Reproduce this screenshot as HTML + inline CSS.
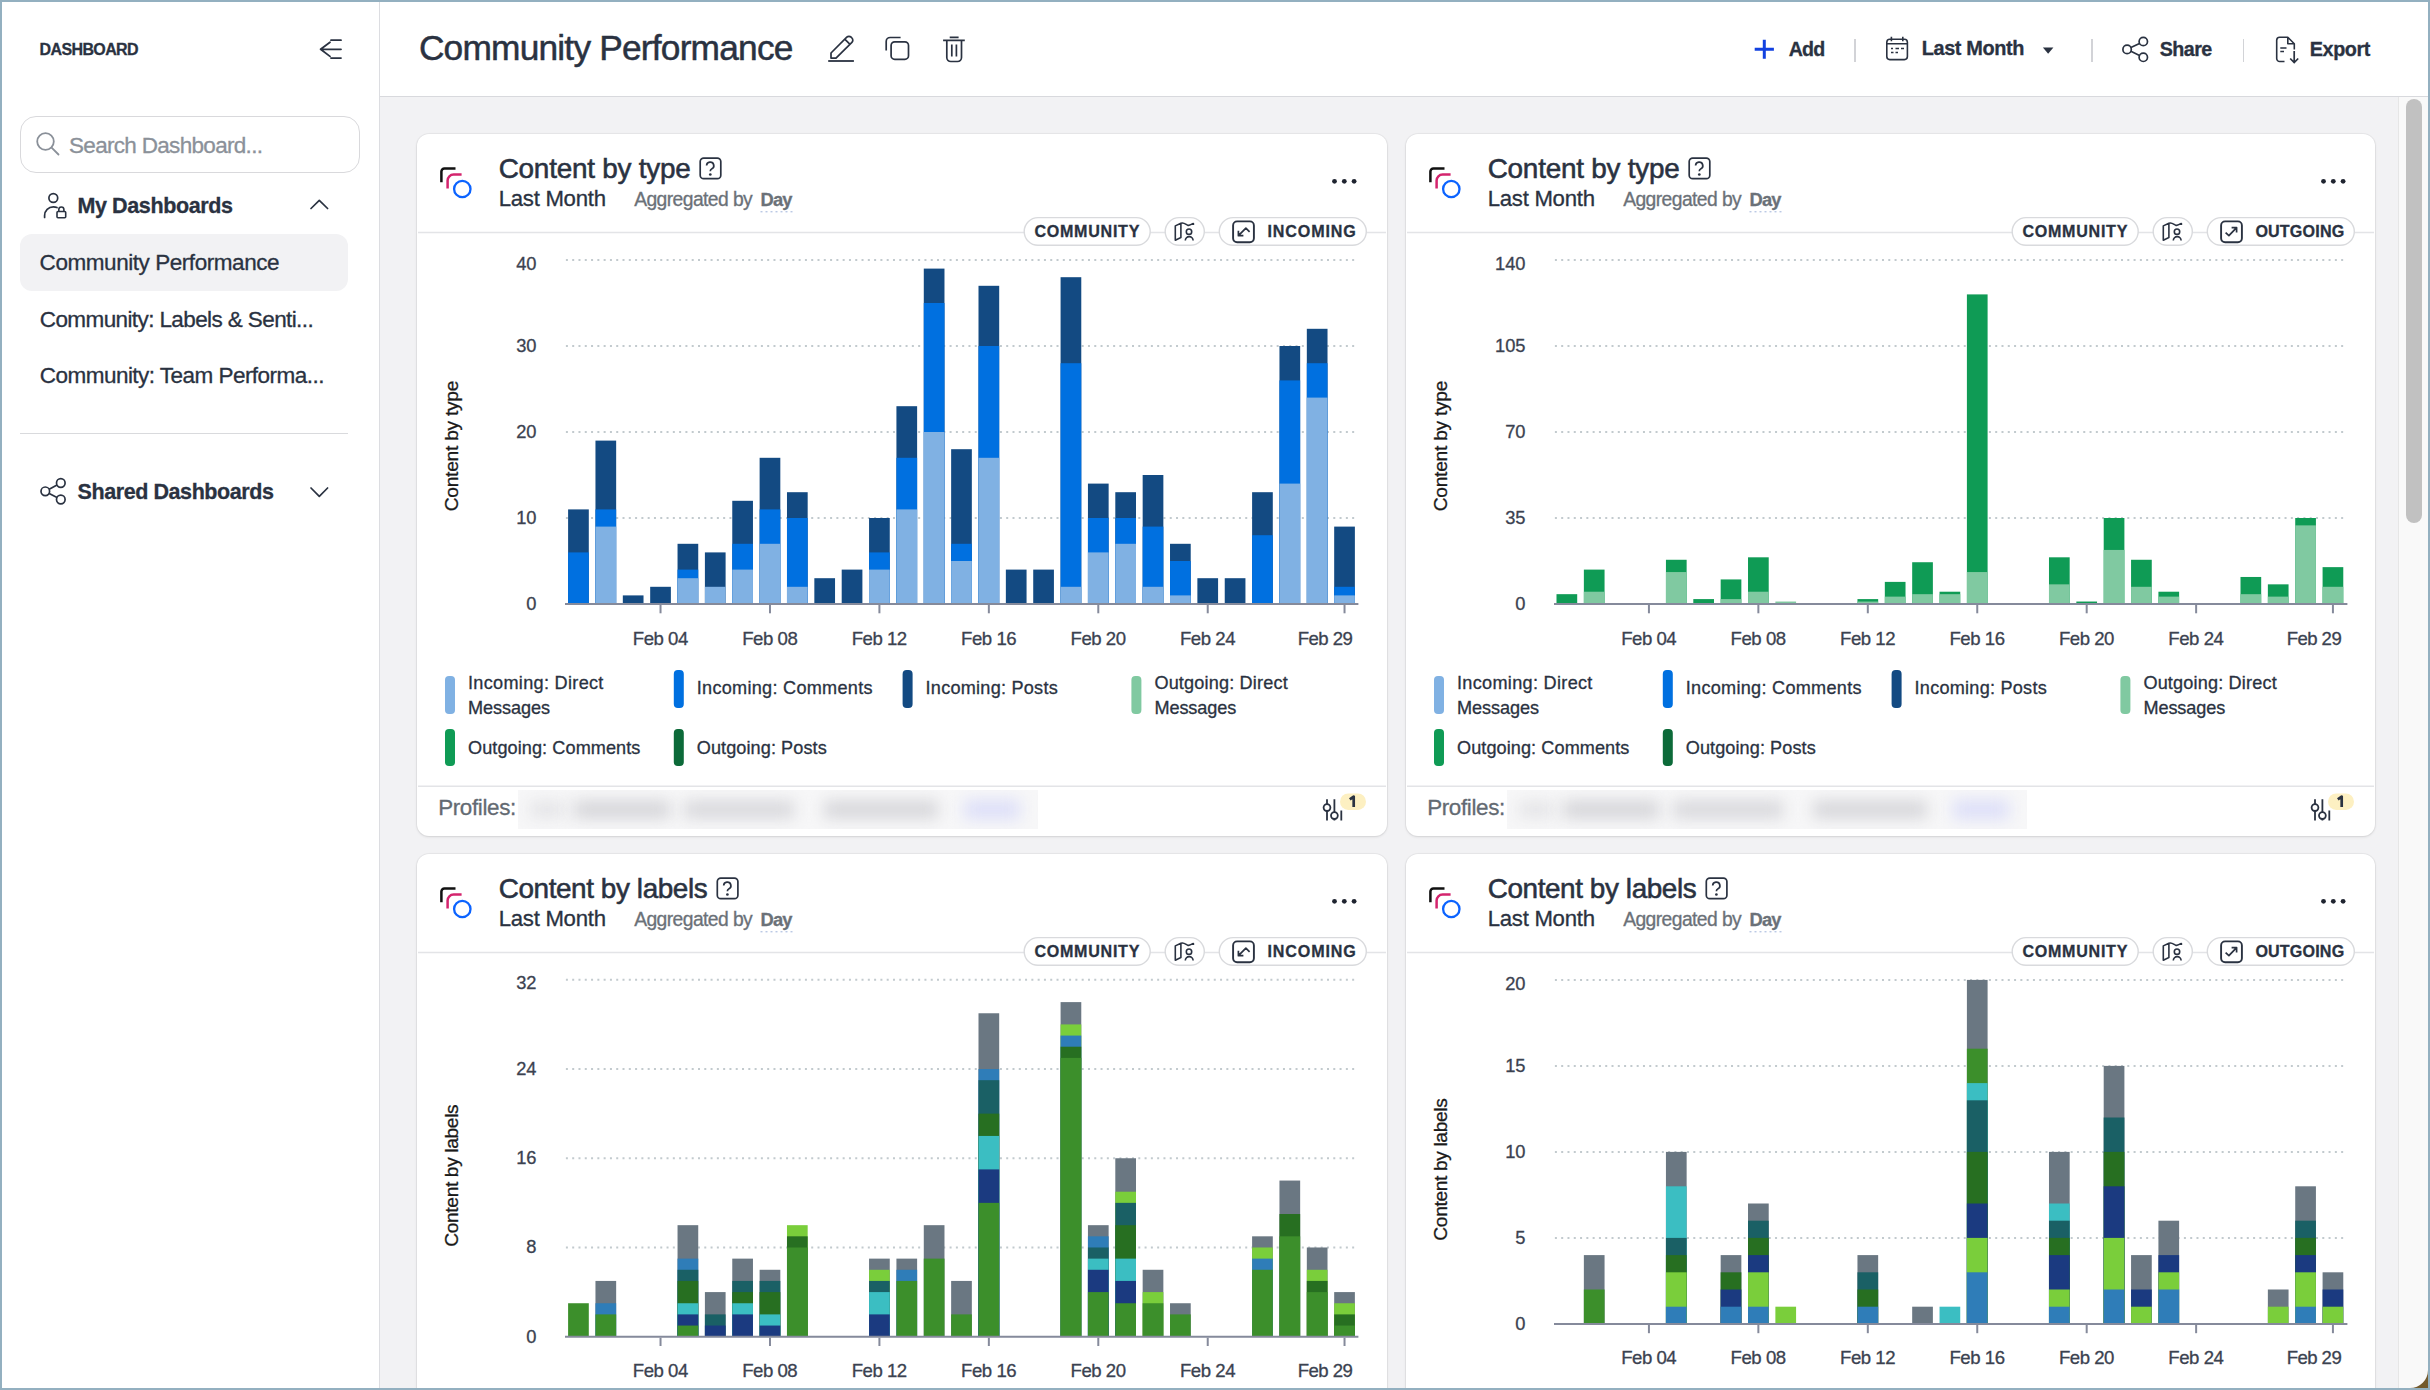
<!DOCTYPE html>
<html><head><meta charset="utf-8"><title>Community Performance</title>
<style>
html,body{margin:0;padding:0;width:2430px;height:1390px;overflow:hidden;background:#f2f2f4}
body{position:relative;font-family:"Liberation Sans",sans-serif;}
.t{position:absolute;white-space:nowrap;display:block;z-index:5;-webkit-text-stroke:0.3px currentColor}
svg.ov{position:absolute;left:0;top:0;z-index:4}
</style></head><body>
<div style="position:absolute;left:0;top:0;width:2430px;height:1390px;background:#f2f2f4"></div>
<div style="position:absolute;left:0;top:0;width:379px;height:1390px;background:#fff;border-right:1.5px solid #dcdde1"></div>
<div style="position:absolute;left:380px;top:0;width:2050px;height:96px;background:#fff;border-bottom:1.5px solid #d8d9dd"></div>
<div style="position:absolute;left:2398px;top:97px;width:32px;height:1293px;background:#f9f9f9;border-left:1px solid #e6e6e6"></div>
<div style="position:absolute;left:2406px;top:99px;width:16px;height:424px;border-radius:8px;background:#c1c1c1"></div>
<div style="position:absolute;left:20px;top:116px;width:338px;height:55px;border:1.5px solid #d9d9dc;border-radius:16px;background:#fff"></div>
<div style="position:absolute;left:20px;top:234px;width:328px;height:57px;border-radius:12px;background:#f2f2f4"></div>
<div style="position:absolute;left:20px;top:433px;width:328px;height:1.3px;background:#d9dadd"></div>
<div style="position:absolute;left:1854px;top:39px;width:2px;height:23px;background:#d2d3d7"></div>
<div style="position:absolute;left:2091px;top:39px;width:2px;height:23px;background:#d2d3d7"></div>
<div style="position:absolute;left:2243px;top:39px;width:1.3px;height:23px;background:#d2d3d7"></div>
<div style="position:absolute;left:417px;top:134px;width:970px;height:702px;background:#fff;border-radius:12px;box-shadow:0 0 0 1px rgba(0,0,0,0.04),0 1px 3px rgba(0,0,0,0.10)"></div>
<div style="position:absolute;left:518px;top:790px;width:520px;height:39px;background:#f7f7f8;overflow:hidden"><div style="position:absolute;left:12px;top:12px;width:34px;height:15px;background:#e2e2e5;filter:blur(8px)"></div><div style="position:absolute;left:56px;top:11px;width:96px;height:17px;background:#d3d3d7;filter:blur(8px)"></div><div style="position:absolute;left:166px;top:11px;width:110px;height:17px;background:#d6d6da;filter:blur(8px)"></div><div style="position:absolute;left:306px;top:11px;width:114px;height:17px;background:#d4d4d8;filter:blur(8px)"></div><div style="position:absolute;left:446px;top:10px;width:56px;height:19px;background:#dcdef8;filter:blur(8px)"></div></div>
<div style="position:absolute;left:1406px;top:134px;width:969px;height:702px;background:#fff;border-radius:12px;box-shadow:0 0 0 1px rgba(0,0,0,0.04),0 1px 3px rgba(0,0,0,0.10)"></div>
<div style="position:absolute;left:1507px;top:790px;width:520px;height:39px;background:#f7f7f8;overflow:hidden"><div style="position:absolute;left:12px;top:12px;width:34px;height:15px;background:#e2e2e5;filter:blur(8px)"></div><div style="position:absolute;left:56px;top:11px;width:96px;height:17px;background:#d3d3d7;filter:blur(8px)"></div><div style="position:absolute;left:166px;top:11px;width:110px;height:17px;background:#d6d6da;filter:blur(8px)"></div><div style="position:absolute;left:306px;top:11px;width:114px;height:17px;background:#d4d4d8;filter:blur(8px)"></div><div style="position:absolute;left:446px;top:10px;width:56px;height:19px;background:#dcdef8;filter:blur(8px)"></div></div>
<div style="position:absolute;left:417px;top:854px;width:970px;height:800px;background:#fff;border-radius:12px;box-shadow:0 0 0 1px rgba(0,0,0,0.04),0 1px 3px rgba(0,0,0,0.10)"></div>
<div style="position:absolute;left:1406px;top:854px;width:969px;height:800px;background:#fff;border-radius:12px;box-shadow:0 0 0 1px rgba(0,0,0,0.04),0 1px 3px rgba(0,0,0,0.10)"></div>
<svg class="ov" width="2430" height="1390" viewBox="0 0 2430 1390">
<path d="M331 40.2H341M320.6 49.3H341M331 58.1H341M330 42.2L320.6 49.3L330 56.4" stroke="#2a3241" stroke-width="1.8" fill="none" stroke-linecap="round" stroke-linejoin="round"/>
<circle cx="45.5" cy="141.5" r="8.3" stroke="#8a9099" stroke-width="1.8" fill="none"/><path d="M51.6 147.6L58.5 154.5" stroke="#8a9099" stroke-width="1.8" stroke-linecap="round"/>
<circle cx="53.3" cy="198" r="4.4" stroke="#2a3241" stroke-width="1.7" fill="none"/><path d="M44.6 217.5V215.5C44.6 210.5 48.5 206.8 53.3 206.8C54.8 206.8 56 207.1 57 207.6" stroke="#2a3241" stroke-width="1.7" fill="none" stroke-linecap="round"/><rect x="57" y="211.5" width="8.7" height="6.3" rx="1" stroke="#2a3241" stroke-width="1.6" fill="none"/><path d="M58.8 211.5V209.6A2.55 2.55 0 0 1 63.9 209.6V211.5" stroke="#2a3241" stroke-width="1.6" fill="none"/>
<path d="M311 208.5L319.3 200.3L327.6 208.5" stroke="#2a3241" stroke-width="1.7" fill="none" stroke-linecap="round" stroke-linejoin="round"/>
<circle cx="60.8" cy="483" r="4.3" stroke="#2a3241" stroke-width="1.7" fill="none"/><circle cx="45.3" cy="491.3" r="4.3" stroke="#2a3241" stroke-width="1.7" fill="none"/><circle cx="60.8" cy="499.5" r="4.3" stroke="#2a3241" stroke-width="1.7" fill="none"/><path d="M49.2 489.2L57 485M49.2 493.4L57 497.6" stroke="#2a3241" stroke-width="1.7"/>
<path d="M311 488L319.3 496.3L327.6 488" stroke="#2a3241" stroke-width="1.7" fill="none" stroke-linecap="round" stroke-linejoin="round"/>
<path d="M828.2 61H853.9" stroke="#2a3241" stroke-width="1.8"/><path d="M831 57.7V53L846.8 37.2A3 3 0 0 1 851.1 37.2L851.9 38A3 3 0 0 1 851.9 42.3L836 58.1H831Z M845 39.3L849.8 44.1" stroke="#2a3241" stroke-width="1.7" fill="none" stroke-linejoin="round"/>
<path d="M886.2 50.4V41.5A4 4 0 0 1 890.2 37.5H900.6" stroke="#2a3241" stroke-width="1.7" fill="none"/><rect x="891.1" y="41.8" width="17.4" height="17.5" rx="3.6" stroke="#2a3241" stroke-width="1.7" fill="none"/>
<path d="M943.1 40.4H964.8M949.7 37.3H958.6M946.8 40.4V57.5A4 4 0 0 0 950.8 61.5H957.5A4 4 0 0 0 961.5 57.5V40.4M951.8 44.5V56.6M956.4 44.5V56.6" stroke="#2a3241" stroke-width="1.7" fill="none"/>
<path d="M1764.3 39.7V58.8M1754.7 49.3H1773.9" stroke="#1241e0" stroke-width="3"/>
<rect x="1886.8" y="39.3" width="20.6" height="20.3" rx="3" stroke="#2a3241" stroke-width="1.6" fill="none"/><path d="M1886.8 43.8H1907.4M1891.4 36.8V41.2M1902.8 36.8V41.2" stroke="#2a3241" stroke-width="1.6"/><path d="M1891 48.5H1893M1895.5 48.5H1899M1901 48.5H1904M1891 52.6H1893.5M1895.5 52.6H1898" stroke="#2a3241" stroke-width="1.5"/>
<path d="M2042.9 47.4H2053.4L2048.15 53.7Z" fill="#2a3241"/>
<circle cx="2143.3" cy="41.5" r="4.2" stroke="#2a3241" stroke-width="1.7" fill="none"/><circle cx="2127.1" cy="49.4" r="4.2" stroke="#2a3241" stroke-width="1.7" fill="none"/><circle cx="2143.3" cy="57.3" r="4.2" stroke="#2a3241" stroke-width="1.7" fill="none"/><path d="M2130.9 47.5L2139.5 43.4M2130.9 51.3L2139.5 55.4" stroke="#2a3241" stroke-width="1.7"/>
<path d="M2284.5 61.5H2280A3 3 0 0 1 2276.7 58.5V40.2A3 3 0 0 1 2279.7 37.2H2287.8L2294.3 43.7V49.5M2287.8 37.2V43.7H2294.3" stroke="#2a3241" stroke-width="1.6" fill="none" stroke-linejoin="round"/><path d="M2280.3 48H2286.5M2280.3 51.5H2284" stroke="#2a3241" stroke-width="1.5"/><path d="M2294.2 51V62.5M2290.2 58.5L2294.2 62.5L2298.2 58.5" stroke="#2a3241" stroke-width="1.7" fill="none"/>
<path d="M441.4 182.2V171.5A3 3 0 0 1 444.4 168.5H455.5" stroke="#111" stroke-width="2.5" fill="none"/>
<path d="M447.6 188.6V180.6A6 6 0 0 1 453.6 174.6H461.6" stroke="#d4246d" stroke-width="2.5" fill="none"/>
<circle cx="462.3" cy="189.0" r="8.2" stroke="#0b63ff" stroke-width="2.3" fill="none"/>
<rect x="700.2" y="158.1" width="20.6" height="20.6" rx="3.5" stroke="#2a3241" stroke-width="1.7" fill="none"/>
<g transform="translate(0.00 0.00)"><path d="M706.6 165.6A3.6 3.6 0 1 1 711.6 169C710.6 169.4 710.3 170.2 710.3 171.3" stroke="#2a3241" stroke-width="1.7" fill="none"/><circle cx="710.3" cy="174.5" r="1.35" fill="#2a3241"/></g>
<path d="M760.5 211.8H793.0" stroke="#9fb3d9" stroke-width="1" stroke-dasharray="2 3"/>
<circle cx="1334.5" cy="181.3" r="2.4" fill="#1f2430"/>
<circle cx="1344.3" cy="181.3" r="2.4" fill="#1f2430"/>
<circle cx="1354.1" cy="181.3" r="2.4" fill="#1f2430"/>
<path d="M418.0 232.5H1386.0" stroke="#e3e4e7" stroke-width="1.5"/>
<rect x="1219.3" y="217.6" width="147.0" height="27.6" rx="13.8" fill="#fff" stroke="#d9dadd" stroke-width="1.4"/>
<rect x="1165.2" y="217.6" width="39.1" height="27.6" rx="13.8" fill="#fff" stroke="#d9dadd" stroke-width="1.4"/>
<rect x="1024.2" y="217.6" width="126.0" height="27.6" rx="13.8" fill="#fff" stroke="#d9dadd" stroke-width="1.4"/>
<g transform="translate(-0.10 0.00)"><path d="M1175.4 225.9V240.2L1181 237.6V223.2Z M1181 223.2C1184 222 1186 224.5 1187.8 225.2C1189.8 226 1191.5 224 1193.5 223.5V225" stroke="#2a3241" stroke-width="1.6" fill="none" stroke-linejoin="round"/><circle cx="1189.1" cy="231.7" r="2.7" stroke="#2a3241" stroke-width="1.6" fill="none"/><path d="M1185.4 240.5A3.9 3.9 0 0 1 1193.2 240.5" stroke="#2a3241" stroke-width="1.6" fill="none"/></g>
<rect x="1233.1" y="221.4" width="20.8" height="20.8" rx="4" stroke="#2a3241" stroke-width="1.9" fill="none"/>
<path d="M1249.6 231.8L1245.9 228.2L1238.4 235.7 M1238.4 230.7V235.7H1243.4" stroke="#2a3241" stroke-width="1.7" fill="none" stroke-linejoin="round"/>
<path d="M565.9 518.00H1358.0" stroke="#c2cace" stroke-width="2" stroke-dasharray="2 4.29"/>
<path d="M565.9 432.00H1358.0" stroke="#c2cace" stroke-width="2" stroke-dasharray="2 4.29"/>
<path d="M565.9 346.00H1358.0" stroke="#c2cace" stroke-width="2" stroke-dasharray="2 4.29"/>
<path d="M565.9 260.00H1358.0" stroke="#c2cace" stroke-width="2" stroke-dasharray="2 4.29"/>
<rect x="568.10" y="509.40" width="20.7" height="94.60" fill="#134a82"/>
<rect x="568.10" y="552.40" width="20.7" height="51.60" fill="#0070e0"/>
<rect x="595.46" y="440.60" width="20.7" height="163.40" fill="#134a82"/>
<rect x="595.46" y="509.40" width="20.7" height="94.60" fill="#0070e0"/>
<rect x="595.46" y="526.60" width="20.7" height="77.40" fill="#80b1e3"/>
<rect x="622.82" y="595.40" width="20.7" height="8.60" fill="#134a82"/>
<rect x="650.18" y="586.80" width="20.7" height="17.20" fill="#134a82"/>
<rect x="677.54" y="543.80" width="20.7" height="60.20" fill="#134a82"/>
<rect x="677.54" y="569.60" width="20.7" height="34.40" fill="#0070e0"/>
<rect x="677.54" y="578.20" width="20.7" height="25.80" fill="#80b1e3"/>
<rect x="704.90" y="552.40" width="20.7" height="51.60" fill="#134a82"/>
<rect x="704.90" y="586.80" width="20.7" height="17.20" fill="#80b1e3"/>
<rect x="732.26" y="500.80" width="20.7" height="103.20" fill="#134a82"/>
<rect x="732.26" y="543.80" width="20.7" height="60.20" fill="#0070e0"/>
<rect x="732.26" y="569.60" width="20.7" height="34.40" fill="#80b1e3"/>
<rect x="759.62" y="457.80" width="20.7" height="146.20" fill="#134a82"/>
<rect x="759.62" y="509.40" width="20.7" height="94.60" fill="#0070e0"/>
<rect x="759.62" y="543.80" width="20.7" height="60.20" fill="#80b1e3"/>
<rect x="786.98" y="492.20" width="20.7" height="111.80" fill="#134a82"/>
<rect x="786.98" y="518.00" width="20.7" height="86.00" fill="#0070e0"/>
<rect x="786.98" y="586.80" width="20.7" height="17.20" fill="#80b1e3"/>
<rect x="814.34" y="578.20" width="20.7" height="25.80" fill="#134a82"/>
<rect x="841.70" y="569.60" width="20.7" height="34.40" fill="#134a82"/>
<rect x="869.06" y="518.00" width="20.7" height="86.00" fill="#134a82"/>
<rect x="869.06" y="552.40" width="20.7" height="51.60" fill="#0070e0"/>
<rect x="869.06" y="569.60" width="20.7" height="34.40" fill="#80b1e3"/>
<rect x="896.42" y="406.20" width="20.7" height="197.80" fill="#134a82"/>
<rect x="896.42" y="457.80" width="20.7" height="146.20" fill="#0070e0"/>
<rect x="896.42" y="509.40" width="20.7" height="94.60" fill="#80b1e3"/>
<rect x="923.78" y="268.60" width="20.7" height="335.40" fill="#134a82"/>
<rect x="923.78" y="303.00" width="20.7" height="301.00" fill="#0070e0"/>
<rect x="923.78" y="432.00" width="20.7" height="172.00" fill="#80b1e3"/>
<rect x="951.14" y="449.20" width="20.7" height="154.80" fill="#134a82"/>
<rect x="951.14" y="543.80" width="20.7" height="60.20" fill="#0070e0"/>
<rect x="951.14" y="561.00" width="20.7" height="43.00" fill="#80b1e3"/>
<rect x="978.50" y="285.80" width="20.7" height="318.20" fill="#134a82"/>
<rect x="978.50" y="346.00" width="20.7" height="258.00" fill="#0070e0"/>
<rect x="978.50" y="457.80" width="20.7" height="146.20" fill="#80b1e3"/>
<rect x="1005.86" y="569.60" width="20.7" height="34.40" fill="#134a82"/>
<rect x="1033.22" y="569.60" width="20.7" height="34.40" fill="#134a82"/>
<rect x="1060.58" y="277.20" width="20.7" height="326.80" fill="#134a82"/>
<rect x="1060.58" y="363.20" width="20.7" height="240.80" fill="#0070e0"/>
<rect x="1060.58" y="586.80" width="20.7" height="17.20" fill="#80b1e3"/>
<rect x="1087.94" y="483.60" width="20.7" height="120.40" fill="#134a82"/>
<rect x="1087.94" y="518.00" width="20.7" height="86.00" fill="#0070e0"/>
<rect x="1087.94" y="552.40" width="20.7" height="51.60" fill="#80b1e3"/>
<rect x="1115.30" y="492.20" width="20.7" height="111.80" fill="#134a82"/>
<rect x="1115.30" y="518.00" width="20.7" height="86.00" fill="#0070e0"/>
<rect x="1115.30" y="543.80" width="20.7" height="60.20" fill="#80b1e3"/>
<rect x="1142.66" y="475.00" width="20.7" height="129.00" fill="#134a82"/>
<rect x="1142.66" y="526.60" width="20.7" height="77.40" fill="#0070e0"/>
<rect x="1142.66" y="586.80" width="20.7" height="17.20" fill="#80b1e3"/>
<rect x="1170.02" y="543.80" width="20.7" height="60.20" fill="#134a82"/>
<rect x="1170.02" y="561.00" width="20.7" height="43.00" fill="#0070e0"/>
<rect x="1170.02" y="595.40" width="20.7" height="8.60" fill="#80b1e3"/>
<rect x="1197.38" y="578.20" width="20.7" height="25.80" fill="#134a82"/>
<rect x="1224.74" y="578.20" width="20.7" height="25.80" fill="#134a82"/>
<rect x="1252.10" y="492.20" width="20.7" height="111.80" fill="#134a82"/>
<rect x="1252.10" y="535.20" width="20.7" height="68.80" fill="#0070e0"/>
<rect x="1279.46" y="346.00" width="20.7" height="258.00" fill="#134a82"/>
<rect x="1279.46" y="380.40" width="20.7" height="223.60" fill="#0070e0"/>
<rect x="1279.46" y="483.60" width="20.7" height="120.40" fill="#80b1e3"/>
<rect x="1306.82" y="328.80" width="20.7" height="275.20" fill="#134a82"/>
<rect x="1306.82" y="363.20" width="20.7" height="240.80" fill="#0070e0"/>
<rect x="1306.82" y="397.60" width="20.7" height="206.40" fill="#80b1e3"/>
<rect x="1334.18" y="526.60" width="20.7" height="77.40" fill="#134a82"/>
<rect x="1334.18" y="586.80" width="20.7" height="17.20" fill="#0070e0"/>
<rect x="1334.18" y="595.40" width="20.7" height="8.60" fill="#80b1e3"/>
<path d="M565.0 604.0H1358.4" stroke="#858a9b" stroke-width="2"/>
<path d="M660.53 605.0V613.3" stroke="#858a9b" stroke-width="2"/>
<path d="M769.97 605.0V613.3" stroke="#858a9b" stroke-width="2"/>
<path d="M879.41 605.0V613.3" stroke="#858a9b" stroke-width="2"/>
<path d="M988.85 605.0V613.3" stroke="#858a9b" stroke-width="2"/>
<path d="M1098.29 605.0V613.3" stroke="#858a9b" stroke-width="2"/>
<path d="M1207.73 605.0V613.3" stroke="#858a9b" stroke-width="2"/>
<path d="M1344.53 605.0V613.3" stroke="#858a9b" stroke-width="2"/>
<rect x="445.0" y="676.0" width="10" height="38" rx="4" fill="#80b1e3"/>
<rect x="673.8" y="670.0" width="10" height="38" rx="4" fill="#0070e0"/>
<rect x="902.6" y="670.0" width="10" height="38" rx="4" fill="#134a82"/>
<rect x="1131.4" y="676.0" width="10" height="38" rx="4" fill="#80c9a1"/>
<rect x="445.0" y="729.0" width="10" height="37" rx="4" fill="#0f9b55"/>
<rect x="673.8" y="729.0" width="10" height="37" rx="4" fill="#0c6a39"/>
<path d="M418.0 786.3H1386.0" stroke="#e3e4e7" stroke-width="1.5"/>
<g transform="translate(0.00 0.00)"><path d="M1327 799.2V820.6M1334.4 799.2V820.6M1341.3 810.6V820.6" stroke="#2a3241" stroke-width="1.8"/><circle cx="1327" cy="807.6" r="3.4" fill="#fff" stroke="#2a3241" stroke-width="1.8"/><circle cx="1334.4" cy="815.6" r="3.4" fill="#fff" stroke="#2a3241" stroke-width="1.8"/></g>
<rect x="1340.0" y="793.4" width="26" height="16.5" rx="8.25" fill="#fdf0c2"/>
<path d="M1349.80 799.40L1353.70 796.60V807.00" stroke="#2a3241" stroke-width="2.7" fill="none" stroke-linejoin="round"/>
<path d="M1430.4 182.2V171.5A3 3 0 0 1 1433.4 168.5H1444.5" stroke="#111" stroke-width="2.5" fill="none"/>
<path d="M1436.6 188.6V180.6A6 6 0 0 1 1442.6 174.6H1450.6" stroke="#d4246d" stroke-width="2.5" fill="none"/>
<circle cx="1451.3" cy="189.0" r="8.2" stroke="#0b63ff" stroke-width="2.3" fill="none"/>
<rect x="1689.2" y="158.1" width="20.6" height="20.6" rx="3.5" stroke="#2a3241" stroke-width="1.7" fill="none"/>
<g transform="translate(989.00 0.00)"><path d="M706.6 165.6A3.6 3.6 0 1 1 711.6 169C710.6 169.4 710.3 170.2 710.3 171.3" stroke="#2a3241" stroke-width="1.7" fill="none"/><circle cx="710.3" cy="174.5" r="1.35" fill="#2a3241"/></g>
<path d="M1749.5 211.8H1782.0" stroke="#9fb3d9" stroke-width="1" stroke-dasharray="2 3"/>
<circle cx="2323.5" cy="181.3" r="2.4" fill="#1f2430"/>
<circle cx="2333.3" cy="181.3" r="2.4" fill="#1f2430"/>
<circle cx="2343.1" cy="181.3" r="2.4" fill="#1f2430"/>
<path d="M1407.0 232.5H2374.0" stroke="#e3e4e7" stroke-width="1.5"/>
<rect x="2207.3" y="217.6" width="147.0" height="27.6" rx="13.8" fill="#fff" stroke="#d9dadd" stroke-width="1.4"/>
<rect x="2153.2" y="217.6" width="39.1" height="27.6" rx="13.8" fill="#fff" stroke="#d9dadd" stroke-width="1.4"/>
<rect x="2012.2" y="217.6" width="126.0" height="27.6" rx="13.8" fill="#fff" stroke="#d9dadd" stroke-width="1.4"/>
<g transform="translate(987.90 0.00)"><path d="M1175.4 225.9V240.2L1181 237.6V223.2Z M1181 223.2C1184 222 1186 224.5 1187.8 225.2C1189.8 226 1191.5 224 1193.5 223.5V225" stroke="#2a3241" stroke-width="1.6" fill="none" stroke-linejoin="round"/><circle cx="1189.1" cy="231.7" r="2.7" stroke="#2a3241" stroke-width="1.6" fill="none"/><path d="M1185.4 240.5A3.9 3.9 0 0 1 1193.2 240.5" stroke="#2a3241" stroke-width="1.6" fill="none"/></g>
<rect x="2221.1" y="221.4" width="20.8" height="20.8" rx="4" stroke="#2a3241" stroke-width="1.9" fill="none"/>
<path d="M2225.6 232.7L2228.9 235.7L2236.6 227.6 M2231.6 227.6H2236.6V232.6" stroke="#2a3241" stroke-width="1.7" fill="none" stroke-linejoin="round"/>
<path d="M1554.9 518.00H2347.0" stroke="#c2cace" stroke-width="2" stroke-dasharray="2 4.29"/>
<path d="M1554.9 432.00H2347.0" stroke="#c2cace" stroke-width="2" stroke-dasharray="2 4.29"/>
<path d="M1554.9 346.00H2347.0" stroke="#c2cace" stroke-width="2" stroke-dasharray="2 4.29"/>
<path d="M1554.9 260.00H2347.0" stroke="#c2cace" stroke-width="2" stroke-dasharray="2 4.29"/>
<rect x="1556.50" y="594.17" width="20.7" height="9.83" fill="#0f9b55"/>
<rect x="1583.86" y="569.60" width="20.7" height="34.40" fill="#0f9b55"/>
<rect x="1583.86" y="591.71" width="20.7" height="12.29" fill="#80c9a1"/>
<rect x="1665.94" y="559.77" width="20.7" height="44.23" fill="#0f9b55"/>
<rect x="1665.94" y="572.06" width="20.7" height="31.94" fill="#80c9a1"/>
<rect x="1693.30" y="599.09" width="20.7" height="4.91" fill="#0f9b55"/>
<rect x="1720.66" y="579.43" width="20.7" height="24.57" fill="#0f9b55"/>
<rect x="1720.66" y="599.09" width="20.7" height="4.91" fill="#80c9a1"/>
<rect x="1748.02" y="557.31" width="20.7" height="46.69" fill="#0f9b55"/>
<rect x="1748.02" y="591.71" width="20.7" height="12.29" fill="#80c9a1"/>
<rect x="1775.38" y="601.54" width="20.7" height="2.46" fill="#80c9a1"/>
<rect x="1857.46" y="599.09" width="20.7" height="4.91" fill="#0f9b55"/>
<rect x="1857.46" y="601.54" width="20.7" height="2.46" fill="#80c9a1"/>
<rect x="1884.82" y="581.89" width="20.7" height="22.11" fill="#0f9b55"/>
<rect x="1884.82" y="596.63" width="20.7" height="7.37" fill="#80c9a1"/>
<rect x="1912.18" y="562.23" width="20.7" height="41.77" fill="#0f9b55"/>
<rect x="1912.18" y="594.17" width="20.7" height="9.83" fill="#80c9a1"/>
<rect x="1939.54" y="591.71" width="20.7" height="12.29" fill="#0f9b55"/>
<rect x="1939.54" y="594.17" width="20.7" height="9.83" fill="#80c9a1"/>
<rect x="1966.90" y="294.40" width="20.7" height="309.60" fill="#0f9b55"/>
<rect x="1966.90" y="572.06" width="20.7" height="31.94" fill="#80c9a1"/>
<rect x="2048.98" y="557.31" width="20.7" height="46.69" fill="#0f9b55"/>
<rect x="2048.98" y="584.34" width="20.7" height="19.66" fill="#80c9a1"/>
<rect x="2076.34" y="601.54" width="20.7" height="2.46" fill="#0f9b55"/>
<rect x="2103.70" y="518.00" width="20.7" height="86.00" fill="#0f9b55"/>
<rect x="2103.70" y="549.94" width="20.7" height="54.06" fill="#80c9a1"/>
<rect x="2131.06" y="559.77" width="20.7" height="44.23" fill="#0f9b55"/>
<rect x="2131.06" y="586.80" width="20.7" height="17.20" fill="#80c9a1"/>
<rect x="2158.42" y="591.71" width="20.7" height="12.29" fill="#0f9b55"/>
<rect x="2158.42" y="596.63" width="20.7" height="7.37" fill="#80c9a1"/>
<rect x="2240.50" y="576.97" width="20.7" height="27.03" fill="#0f9b55"/>
<rect x="2240.50" y="594.17" width="20.7" height="9.83" fill="#80c9a1"/>
<rect x="2267.86" y="584.34" width="20.7" height="19.66" fill="#0f9b55"/>
<rect x="2267.86" y="596.63" width="20.7" height="7.37" fill="#80c9a1"/>
<rect x="2295.22" y="518.00" width="20.7" height="86.00" fill="#0f9b55"/>
<rect x="2295.22" y="525.37" width="20.7" height="78.63" fill="#80c9a1"/>
<rect x="2322.58" y="567.14" width="20.7" height="36.86" fill="#0f9b55"/>
<rect x="2322.58" y="586.80" width="20.7" height="17.20" fill="#80c9a1"/>
<path d="M1554.0 604.0H2347.4" stroke="#858a9b" stroke-width="2"/>
<path d="M1648.93 605.0V613.3" stroke="#858a9b" stroke-width="2"/>
<path d="M1758.37 605.0V613.3" stroke="#858a9b" stroke-width="2"/>
<path d="M1867.81 605.0V613.3" stroke="#858a9b" stroke-width="2"/>
<path d="M1977.25 605.0V613.3" stroke="#858a9b" stroke-width="2"/>
<path d="M2086.69 605.0V613.3" stroke="#858a9b" stroke-width="2"/>
<path d="M2196.13 605.0V613.3" stroke="#858a9b" stroke-width="2"/>
<path d="M2332.93 605.0V613.3" stroke="#858a9b" stroke-width="2"/>
<rect x="1434.0" y="676.0" width="10" height="38" rx="4" fill="#80b1e3"/>
<rect x="1662.8" y="670.0" width="10" height="38" rx="4" fill="#0070e0"/>
<rect x="1891.6" y="670.0" width="10" height="38" rx="4" fill="#134a82"/>
<rect x="2120.4" y="676.0" width="10" height="38" rx="4" fill="#80c9a1"/>
<rect x="1434.0" y="729.0" width="10" height="37" rx="4" fill="#0f9b55"/>
<rect x="1662.8" y="729.0" width="10" height="37" rx="4" fill="#0c6a39"/>
<path d="M1407.0 786.3H2374.0" stroke="#e3e4e7" stroke-width="1.5"/>
<g transform="translate(988.00 0.00)"><path d="M1327 799.2V820.6M1334.4 799.2V820.6M1341.3 810.6V820.6" stroke="#2a3241" stroke-width="1.8"/><circle cx="1327" cy="807.6" r="3.4" fill="#fff" stroke="#2a3241" stroke-width="1.8"/><circle cx="1334.4" cy="815.6" r="3.4" fill="#fff" stroke="#2a3241" stroke-width="1.8"/></g>
<rect x="2328.0" y="793.4" width="26" height="16.5" rx="8.25" fill="#fdf0c2"/>
<path d="M2337.80 799.40L2341.70 796.60V807.00" stroke="#2a3241" stroke-width="2.7" fill="none" stroke-linejoin="round"/>
<path d="M441.4 902.2V891.5A3 3 0 0 1 444.4 888.5H455.5" stroke="#111" stroke-width="2.5" fill="none"/>
<path d="M447.6 908.6V900.6A6 6 0 0 1 453.6 894.6H461.6" stroke="#d4246d" stroke-width="2.5" fill="none"/>
<circle cx="462.3" cy="909.0" r="8.2" stroke="#0b63ff" stroke-width="2.3" fill="none"/>
<rect x="717.3" y="878.1" width="20.6" height="20.6" rx="3.5" stroke="#2a3241" stroke-width="1.7" fill="none"/>
<g transform="translate(17.10 720.00)"><path d="M706.6 165.6A3.6 3.6 0 1 1 711.6 169C710.6 169.4 710.3 170.2 710.3 171.3" stroke="#2a3241" stroke-width="1.7" fill="none"/><circle cx="710.3" cy="174.5" r="1.35" fill="#2a3241"/></g>
<path d="M760.5 931.8H793.0" stroke="#9fb3d9" stroke-width="1" stroke-dasharray="2 3"/>
<circle cx="1334.5" cy="901.3" r="2.4" fill="#1f2430"/>
<circle cx="1344.3" cy="901.3" r="2.4" fill="#1f2430"/>
<circle cx="1354.1" cy="901.3" r="2.4" fill="#1f2430"/>
<path d="M418.0 952.5H1386.0" stroke="#e3e4e7" stroke-width="1.5"/>
<rect x="1219.3" y="937.6" width="147.0" height="27.6" rx="13.8" fill="#fff" stroke="#d9dadd" stroke-width="1.4"/>
<rect x="1165.2" y="937.6" width="39.1" height="27.6" rx="13.8" fill="#fff" stroke="#d9dadd" stroke-width="1.4"/>
<rect x="1024.2" y="937.6" width="126.0" height="27.6" rx="13.8" fill="#fff" stroke="#d9dadd" stroke-width="1.4"/>
<g transform="translate(-0.10 720.00)"><path d="M1175.4 225.9V240.2L1181 237.6V223.2Z M1181 223.2C1184 222 1186 224.5 1187.8 225.2C1189.8 226 1191.5 224 1193.5 223.5V225" stroke="#2a3241" stroke-width="1.6" fill="none" stroke-linejoin="round"/><circle cx="1189.1" cy="231.7" r="2.7" stroke="#2a3241" stroke-width="1.6" fill="none"/><path d="M1185.4 240.5A3.9 3.9 0 0 1 1193.2 240.5" stroke="#2a3241" stroke-width="1.6" fill="none"/></g>
<rect x="1233.1" y="941.4" width="20.8" height="20.8" rx="4" stroke="#2a3241" stroke-width="1.9" fill="none"/>
<path d="M1249.6 951.8L1245.9 948.2L1238.4 955.7 M1238.4 950.7V955.7H1243.4" stroke="#2a3241" stroke-width="1.7" fill="none" stroke-linejoin="round"/>
<path d="M565.9 1247.48H1358.0" stroke="#c2cace" stroke-width="2" stroke-dasharray="2 4.29"/>
<path d="M565.9 1158.25H1358.0" stroke="#c2cace" stroke-width="2" stroke-dasharray="2 4.29"/>
<path d="M565.9 1069.03H1358.0" stroke="#c2cace" stroke-width="2" stroke-dasharray="2 4.29"/>
<path d="M565.9 979.80H1358.0" stroke="#c2cace" stroke-width="2" stroke-dasharray="2 4.29"/>
<rect x="568.10" y="1303.24" width="20.7" height="33.46" fill="#3c8f2b"/>
<rect x="595.46" y="1280.93" width="20.7" height="55.77" fill="#6a7782"/>
<rect x="595.46" y="1303.24" width="20.7" height="33.46" fill="#2f7db8"/>
<rect x="595.46" y="1314.39" width="20.7" height="22.31" fill="#3c8f2b"/>
<rect x="677.54" y="1225.17" width="20.7" height="111.53" fill="#6a7782"/>
<rect x="677.54" y="1258.63" width="20.7" height="78.07" fill="#2f7db8"/>
<rect x="677.54" y="1269.78" width="20.7" height="66.92" fill="#1a6065"/>
<rect x="677.54" y="1280.93" width="20.7" height="55.77" fill="#276f21"/>
<rect x="677.54" y="1303.24" width="20.7" height="33.46" fill="#3bbec2"/>
<rect x="677.54" y="1314.39" width="20.7" height="22.31" fill="#1b3a80"/>
<rect x="677.54" y="1325.55" width="20.7" height="11.15" fill="#3c8f2b"/>
<rect x="704.90" y="1292.09" width="20.7" height="44.61" fill="#6a7782"/>
<rect x="704.90" y="1314.39" width="20.7" height="22.31" fill="#1a6065"/>
<rect x="704.90" y="1325.55" width="20.7" height="11.15" fill="#1b3a80"/>
<rect x="732.26" y="1258.63" width="20.7" height="78.07" fill="#6a7782"/>
<rect x="732.26" y="1280.93" width="20.7" height="55.77" fill="#1a6065"/>
<rect x="732.26" y="1292.09" width="20.7" height="44.61" fill="#276f21"/>
<rect x="732.26" y="1303.24" width="20.7" height="33.46" fill="#3bbec2"/>
<rect x="732.26" y="1314.39" width="20.7" height="22.31" fill="#1b3a80"/>
<rect x="759.62" y="1269.78" width="20.7" height="66.92" fill="#6a7782"/>
<rect x="759.62" y="1280.93" width="20.7" height="55.77" fill="#1a6065"/>
<rect x="759.62" y="1292.09" width="20.7" height="44.61" fill="#276f21"/>
<rect x="759.62" y="1314.39" width="20.7" height="22.31" fill="#3bbec2"/>
<rect x="759.62" y="1325.55" width="20.7" height="11.15" fill="#1b3a80"/>
<rect x="786.98" y="1225.17" width="20.7" height="111.53" fill="#7ace3b"/>
<rect x="786.98" y="1236.32" width="20.7" height="100.38" fill="#276f21"/>
<rect x="786.98" y="1247.48" width="20.7" height="89.22" fill="#3c8f2b"/>
<rect x="869.06" y="1258.63" width="20.7" height="78.07" fill="#6a7782"/>
<rect x="869.06" y="1269.78" width="20.7" height="66.92" fill="#7ace3b"/>
<rect x="869.06" y="1280.93" width="20.7" height="55.77" fill="#1a6065"/>
<rect x="869.06" y="1292.09" width="20.7" height="44.61" fill="#3bbec2"/>
<rect x="869.06" y="1314.39" width="20.7" height="22.31" fill="#1b3a80"/>
<rect x="896.42" y="1258.63" width="20.7" height="78.07" fill="#6a7782"/>
<rect x="896.42" y="1269.78" width="20.7" height="66.92" fill="#2f7db8"/>
<rect x="896.42" y="1280.93" width="20.7" height="55.77" fill="#3c8f2b"/>
<rect x="923.78" y="1225.17" width="20.7" height="111.53" fill="#6a7782"/>
<rect x="923.78" y="1258.63" width="20.7" height="78.07" fill="#3c8f2b"/>
<rect x="951.14" y="1280.93" width="20.7" height="55.77" fill="#6a7782"/>
<rect x="951.14" y="1314.39" width="20.7" height="22.31" fill="#3c8f2b"/>
<rect x="978.50" y="1013.26" width="20.7" height="323.44" fill="#6a7782"/>
<rect x="978.50" y="1069.03" width="20.7" height="267.67" fill="#2f7db8"/>
<rect x="978.50" y="1080.18" width="20.7" height="256.52" fill="#1a6065"/>
<rect x="978.50" y="1113.64" width="20.7" height="223.06" fill="#276f21"/>
<rect x="978.50" y="1135.94" width="20.7" height="200.76" fill="#3bbec2"/>
<rect x="978.50" y="1169.40" width="20.7" height="167.30" fill="#1b3a80"/>
<rect x="978.50" y="1202.86" width="20.7" height="133.84" fill="#3c8f2b"/>
<rect x="1060.58" y="1002.11" width="20.7" height="334.59" fill="#6a7782"/>
<rect x="1060.58" y="1024.41" width="20.7" height="312.29" fill="#7ace3b"/>
<rect x="1060.58" y="1035.57" width="20.7" height="301.13" fill="#2f7db8"/>
<rect x="1060.58" y="1046.72" width="20.7" height="289.98" fill="#276f21"/>
<rect x="1060.58" y="1057.87" width="20.7" height="278.83" fill="#3c8f2b"/>
<rect x="1087.94" y="1225.17" width="20.7" height="111.53" fill="#6a7782"/>
<rect x="1087.94" y="1236.32" width="20.7" height="100.38" fill="#2f7db8"/>
<rect x="1087.94" y="1247.48" width="20.7" height="89.22" fill="#1a6065"/>
<rect x="1087.94" y="1258.63" width="20.7" height="78.07" fill="#3bbec2"/>
<rect x="1087.94" y="1269.78" width="20.7" height="66.92" fill="#1b3a80"/>
<rect x="1087.94" y="1292.09" width="20.7" height="44.61" fill="#3c8f2b"/>
<rect x="1115.30" y="1158.25" width="20.7" height="178.45" fill="#6a7782"/>
<rect x="1115.30" y="1191.71" width="20.7" height="144.99" fill="#7ace3b"/>
<rect x="1115.30" y="1202.86" width="20.7" height="133.84" fill="#1a6065"/>
<rect x="1115.30" y="1225.17" width="20.7" height="111.53" fill="#276f21"/>
<rect x="1115.30" y="1258.63" width="20.7" height="78.07" fill="#3bbec2"/>
<rect x="1115.30" y="1280.93" width="20.7" height="55.77" fill="#1b3a80"/>
<rect x="1115.30" y="1303.24" width="20.7" height="33.46" fill="#3c8f2b"/>
<rect x="1142.66" y="1269.78" width="20.7" height="66.92" fill="#6a7782"/>
<rect x="1142.66" y="1292.09" width="20.7" height="44.61" fill="#7ace3b"/>
<rect x="1142.66" y="1303.24" width="20.7" height="33.46" fill="#3c8f2b"/>
<rect x="1170.02" y="1303.24" width="20.7" height="33.46" fill="#6a7782"/>
<rect x="1170.02" y="1314.39" width="20.7" height="22.31" fill="#3c8f2b"/>
<rect x="1252.10" y="1236.32" width="20.7" height="100.38" fill="#6a7782"/>
<rect x="1252.10" y="1247.48" width="20.7" height="89.22" fill="#7ace3b"/>
<rect x="1252.10" y="1258.63" width="20.7" height="78.07" fill="#2f7db8"/>
<rect x="1252.10" y="1269.78" width="20.7" height="66.92" fill="#3c8f2b"/>
<rect x="1279.46" y="1180.56" width="20.7" height="156.14" fill="#6a7782"/>
<rect x="1279.46" y="1214.02" width="20.7" height="122.68" fill="#276f21"/>
<rect x="1279.46" y="1236.32" width="20.7" height="100.38" fill="#3c8f2b"/>
<rect x="1306.82" y="1247.48" width="20.7" height="89.22" fill="#6a7782"/>
<rect x="1306.82" y="1269.78" width="20.7" height="66.92" fill="#7ace3b"/>
<rect x="1306.82" y="1280.93" width="20.7" height="55.77" fill="#276f21"/>
<rect x="1306.82" y="1292.09" width="20.7" height="44.61" fill="#3c8f2b"/>
<rect x="1334.18" y="1292.09" width="20.7" height="44.61" fill="#6a7782"/>
<rect x="1334.18" y="1303.24" width="20.7" height="33.46" fill="#7ace3b"/>
<rect x="1334.18" y="1314.39" width="20.7" height="22.31" fill="#276f21"/>
<rect x="1334.18" y="1325.55" width="20.7" height="11.15" fill="#3c8f2b"/>
<path d="M565.0 1336.7H1358.4" stroke="#858a9b" stroke-width="2"/>
<path d="M660.53 1337.7V1346.0" stroke="#858a9b" stroke-width="2"/>
<path d="M769.97 1337.7V1346.0" stroke="#858a9b" stroke-width="2"/>
<path d="M879.41 1337.7V1346.0" stroke="#858a9b" stroke-width="2"/>
<path d="M988.85 1337.7V1346.0" stroke="#858a9b" stroke-width="2"/>
<path d="M1098.29 1337.7V1346.0" stroke="#858a9b" stroke-width="2"/>
<path d="M1207.73 1337.7V1346.0" stroke="#858a9b" stroke-width="2"/>
<path d="M1344.53 1337.7V1346.0" stroke="#858a9b" stroke-width="2"/>
<path d="M1430.4 902.2V891.5A3 3 0 0 1 1433.4 888.5H1444.5" stroke="#111" stroke-width="2.5" fill="none"/>
<path d="M1436.6 908.6V900.6A6 6 0 0 1 1442.6 894.6H1450.6" stroke="#d4246d" stroke-width="2.5" fill="none"/>
<circle cx="1451.3" cy="909.0" r="8.2" stroke="#0b63ff" stroke-width="2.3" fill="none"/>
<rect x="1706.3" y="878.1" width="20.6" height="20.6" rx="3.5" stroke="#2a3241" stroke-width="1.7" fill="none"/>
<g transform="translate(1006.10 720.00)"><path d="M706.6 165.6A3.6 3.6 0 1 1 711.6 169C710.6 169.4 710.3 170.2 710.3 171.3" stroke="#2a3241" stroke-width="1.7" fill="none"/><circle cx="710.3" cy="174.5" r="1.35" fill="#2a3241"/></g>
<path d="M1749.5 931.8H1782.0" stroke="#9fb3d9" stroke-width="1" stroke-dasharray="2 3"/>
<circle cx="2323.5" cy="901.3" r="2.4" fill="#1f2430"/>
<circle cx="2333.3" cy="901.3" r="2.4" fill="#1f2430"/>
<circle cx="2343.1" cy="901.3" r="2.4" fill="#1f2430"/>
<path d="M1407.0 952.5H2374.0" stroke="#e3e4e7" stroke-width="1.5"/>
<rect x="2207.3" y="937.6" width="147.0" height="27.6" rx="13.8" fill="#fff" stroke="#d9dadd" stroke-width="1.4"/>
<rect x="2153.2" y="937.6" width="39.1" height="27.6" rx="13.8" fill="#fff" stroke="#d9dadd" stroke-width="1.4"/>
<rect x="2012.2" y="937.6" width="126.0" height="27.6" rx="13.8" fill="#fff" stroke="#d9dadd" stroke-width="1.4"/>
<g transform="translate(987.90 720.00)"><path d="M1175.4 225.9V240.2L1181 237.6V223.2Z M1181 223.2C1184 222 1186 224.5 1187.8 225.2C1189.8 226 1191.5 224 1193.5 223.5V225" stroke="#2a3241" stroke-width="1.6" fill="none" stroke-linejoin="round"/><circle cx="1189.1" cy="231.7" r="2.7" stroke="#2a3241" stroke-width="1.6" fill="none"/><path d="M1185.4 240.5A3.9 3.9 0 0 1 1193.2 240.5" stroke="#2a3241" stroke-width="1.6" fill="none"/></g>
<rect x="2221.1" y="941.4" width="20.8" height="20.8" rx="4" stroke="#2a3241" stroke-width="1.9" fill="none"/>
<path d="M2225.6 952.7L2228.9 955.7L2236.6 947.6 M2231.6 947.6H2236.6V952.6" stroke="#2a3241" stroke-width="1.7" fill="none" stroke-linejoin="round"/>
<path d="M1554.9 1237.90H2347.0" stroke="#c2cace" stroke-width="2" stroke-dasharray="2 4.29"/>
<path d="M1554.9 1151.90H2347.0" stroke="#c2cace" stroke-width="2" stroke-dasharray="2 4.29"/>
<path d="M1554.9 1065.90H2347.0" stroke="#c2cace" stroke-width="2" stroke-dasharray="2 4.29"/>
<path d="M1554.9 979.90H2347.0" stroke="#c2cace" stroke-width="2" stroke-dasharray="2 4.29"/>
<rect x="1583.86" y="1255.10" width="20.7" height="68.80" fill="#6a7782"/>
<rect x="1583.86" y="1289.50" width="20.7" height="34.40" fill="#3c8f2b"/>
<rect x="1665.94" y="1151.90" width="20.7" height="172.00" fill="#6a7782"/>
<rect x="1665.94" y="1186.30" width="20.7" height="137.60" fill="#3bbec2"/>
<rect x="1665.94" y="1237.90" width="20.7" height="86.00" fill="#1a6065"/>
<rect x="1665.94" y="1255.10" width="20.7" height="68.80" fill="#276f21"/>
<rect x="1665.94" y="1272.30" width="20.7" height="51.60" fill="#7ace3b"/>
<rect x="1665.94" y="1306.70" width="20.7" height="17.20" fill="#2f7db8"/>
<rect x="1720.66" y="1255.10" width="20.7" height="68.80" fill="#6a7782"/>
<rect x="1720.66" y="1272.30" width="20.7" height="51.60" fill="#276f21"/>
<rect x="1720.66" y="1289.50" width="20.7" height="34.40" fill="#1b3a80"/>
<rect x="1720.66" y="1306.70" width="20.7" height="17.20" fill="#2f7db8"/>
<rect x="1748.02" y="1203.50" width="20.7" height="120.40" fill="#6a7782"/>
<rect x="1748.02" y="1220.70" width="20.7" height="103.20" fill="#1a6065"/>
<rect x="1748.02" y="1237.90" width="20.7" height="86.00" fill="#276f21"/>
<rect x="1748.02" y="1255.10" width="20.7" height="68.80" fill="#1b3a80"/>
<rect x="1748.02" y="1272.30" width="20.7" height="51.60" fill="#7ace3b"/>
<rect x="1748.02" y="1306.70" width="20.7" height="17.20" fill="#2f7db8"/>
<rect x="1775.38" y="1306.70" width="20.7" height="17.20" fill="#7ace3b"/>
<rect x="1857.46" y="1255.10" width="20.7" height="68.80" fill="#6a7782"/>
<rect x="1857.46" y="1272.30" width="20.7" height="51.60" fill="#1a6065"/>
<rect x="1857.46" y="1289.50" width="20.7" height="34.40" fill="#276f21"/>
<rect x="1857.46" y="1306.70" width="20.7" height="17.20" fill="#2f7db8"/>
<rect x="1912.18" y="1306.70" width="20.7" height="17.20" fill="#6a7782"/>
<rect x="1939.54" y="1306.70" width="20.7" height="17.20" fill="#3bbec2"/>
<rect x="1966.90" y="979.90" width="20.7" height="344.00" fill="#6a7782"/>
<rect x="1966.90" y="1048.70" width="20.7" height="275.20" fill="#3c8f2b"/>
<rect x="1966.90" y="1083.10" width="20.7" height="240.80" fill="#3bbec2"/>
<rect x="1966.90" y="1100.30" width="20.7" height="223.60" fill="#1a6065"/>
<rect x="1966.90" y="1151.90" width="20.7" height="172.00" fill="#276f21"/>
<rect x="1966.90" y="1203.50" width="20.7" height="120.40" fill="#1b3a80"/>
<rect x="1966.90" y="1237.90" width="20.7" height="86.00" fill="#7ace3b"/>
<rect x="1966.90" y="1272.30" width="20.7" height="51.60" fill="#2f7db8"/>
<rect x="2048.98" y="1151.90" width="20.7" height="172.00" fill="#6a7782"/>
<rect x="2048.98" y="1203.50" width="20.7" height="120.40" fill="#3bbec2"/>
<rect x="2048.98" y="1220.70" width="20.7" height="103.20" fill="#1a6065"/>
<rect x="2048.98" y="1237.90" width="20.7" height="86.00" fill="#276f21"/>
<rect x="2048.98" y="1255.10" width="20.7" height="68.80" fill="#1b3a80"/>
<rect x="2048.98" y="1289.50" width="20.7" height="34.40" fill="#7ace3b"/>
<rect x="2048.98" y="1306.70" width="20.7" height="17.20" fill="#2f7db8"/>
<rect x="2103.70" y="1065.90" width="20.7" height="258.00" fill="#6a7782"/>
<rect x="2103.70" y="1117.50" width="20.7" height="206.40" fill="#1a6065"/>
<rect x="2103.70" y="1151.90" width="20.7" height="172.00" fill="#276f21"/>
<rect x="2103.70" y="1186.30" width="20.7" height="137.60" fill="#1b3a80"/>
<rect x="2103.70" y="1237.90" width="20.7" height="86.00" fill="#7ace3b"/>
<rect x="2103.70" y="1289.50" width="20.7" height="34.40" fill="#2f7db8"/>
<rect x="2131.06" y="1255.10" width="20.7" height="68.80" fill="#6a7782"/>
<rect x="2131.06" y="1289.50" width="20.7" height="34.40" fill="#1b3a80"/>
<rect x="2131.06" y="1306.70" width="20.7" height="17.20" fill="#7ace3b"/>
<rect x="2158.42" y="1220.70" width="20.7" height="103.20" fill="#6a7782"/>
<rect x="2158.42" y="1255.10" width="20.7" height="68.80" fill="#1b3a80"/>
<rect x="2158.42" y="1272.30" width="20.7" height="51.60" fill="#7ace3b"/>
<rect x="2158.42" y="1289.50" width="20.7" height="34.40" fill="#2f7db8"/>
<rect x="2267.86" y="1289.50" width="20.7" height="34.40" fill="#6a7782"/>
<rect x="2267.86" y="1306.70" width="20.7" height="17.20" fill="#7ace3b"/>
<rect x="2295.22" y="1186.30" width="20.7" height="137.60" fill="#6a7782"/>
<rect x="2295.22" y="1220.70" width="20.7" height="103.20" fill="#1a6065"/>
<rect x="2295.22" y="1237.90" width="20.7" height="86.00" fill="#276f21"/>
<rect x="2295.22" y="1255.10" width="20.7" height="68.80" fill="#1b3a80"/>
<rect x="2295.22" y="1272.30" width="20.7" height="51.60" fill="#7ace3b"/>
<rect x="2295.22" y="1306.70" width="20.7" height="17.20" fill="#2f7db8"/>
<rect x="2322.58" y="1272.30" width="20.7" height="51.60" fill="#6a7782"/>
<rect x="2322.58" y="1289.50" width="20.7" height="34.40" fill="#1b3a80"/>
<rect x="2322.58" y="1306.70" width="20.7" height="17.20" fill="#7ace3b"/>
<path d="M1554.0 1323.9H2347.4" stroke="#858a9b" stroke-width="2"/>
<path d="M1648.93 1324.9V1333.2" stroke="#858a9b" stroke-width="2"/>
<path d="M1758.37 1324.9V1333.2" stroke="#858a9b" stroke-width="2"/>
<path d="M1867.81 1324.9V1333.2" stroke="#858a9b" stroke-width="2"/>
<path d="M1977.25 1324.9V1333.2" stroke="#858a9b" stroke-width="2"/>
<path d="M2086.69 1324.9V1333.2" stroke="#858a9b" stroke-width="2"/>
<path d="M2196.13 1324.9V1333.2" stroke="#858a9b" stroke-width="2"/>
<path d="M2332.93 1324.9V1333.2" stroke="#858a9b" stroke-width="2"/>
<path d="M2428 1370V1388H2410A18 18 0 0 0 2428 1370Z" fill="#735a2c"/>
</svg>
<span id="t0" class="t" style="left:39.50px;top:41.55px;font-size:16.00px;line-height:16.00px;font-weight:700;color:#2a3241;letter-spacing:-0.613px;font-family:'Liberation Sans',sans-serif;">DASHBOARD</span>
<span id="t1" class="t" style="left:69.00px;top:134.95px;font-size:22.50px;line-height:22.50px;font-weight:400;color:#8b9199;letter-spacing:-0.688px;font-family:'Liberation Sans',sans-serif;">Search Dashboard...</span>
<span id="t2" class="t" style="left:77.40px;top:195.80px;font-size:21.50px;line-height:21.50px;font-weight:700;color:#2a3241;letter-spacing:-0.375px;font-family:'Liberation Sans',sans-serif;">My Dashboards</span>
<span id="t3" class="t" style="left:39.60px;top:251.55px;font-size:22.50px;line-height:22.50px;font-weight:400;color:#2a3241;letter-spacing:-0.443px;font-family:'Liberation Sans',sans-serif;">Community Performance</span>
<span id="t4" class="t" style="left:39.80px;top:308.95px;font-size:22.50px;line-height:22.50px;font-weight:400;color:#2a3241;letter-spacing:-0.602px;font-family:'Liberation Sans',sans-serif;">Community: Labels &amp; Senti...</span>
<span id="t5" class="t" style="left:39.80px;top:365.25px;font-size:22.50px;line-height:22.50px;font-weight:400;color:#2a3241;letter-spacing:-0.532px;font-family:'Liberation Sans',sans-serif;">Community: Team Performa...</span>
<span id="t6" class="t" style="left:77.50px;top:482.10px;font-size:21.50px;line-height:21.50px;font-weight:700;color:#2a3241;letter-spacing:-0.415px;font-family:'Liberation Sans',sans-serif;">Shared Dashboards</span>
<span id="t7" class="t" style="left:418.90px;top:30.41px;font-size:35.30px;line-height:35.30px;font-weight:400;color:#2a3241;letter-spacing:-0.793px;font-family:'Liberation Sans',sans-serif;-webkit-text-stroke:0.5px #2a3241;">Community Performance</span>
<span id="t8" class="t" style="left:1788.70px;top:39.70px;font-size:19.60px;line-height:19.60px;font-weight:700;color:#2a3241;letter-spacing:-0.750px;font-family:'Liberation Sans',sans-serif;">Add</span>
<span id="t9" class="t" style="left:1921.70px;top:39.45px;font-size:19.90px;line-height:19.90px;font-weight:700;color:#2a3241;letter-spacing:-0.374px;font-family:'Liberation Sans',sans-serif;">Last Month</span>
<span id="t10" class="t" style="left:2159.70px;top:39.62px;font-size:19.70px;line-height:19.70px;font-weight:700;color:#2a3241;letter-spacing:-0.530px;font-family:'Liberation Sans',sans-serif;">Share</span>
<span id="t11" class="t" style="left:2309.80px;top:39.54px;font-size:19.80px;line-height:19.80px;font-weight:700;color:#2a3241;letter-spacing:-0.411px;font-family:'Liberation Sans',sans-serif;">Export</span>
<span id="t12" class="t" style="left:498.70px;top:154.98px;font-size:27.90px;line-height:27.90px;font-weight:400;color:#2a3241;letter-spacing:-0.240px;font-family:'Liberation Sans',sans-serif;-webkit-text-stroke:0.55px #2a3241;">Content by type</span>
<span id="t13" class="t" style="left:498.70px;top:187.60px;font-size:22.20px;line-height:22.20px;font-weight:400;color:#2a3241;letter-spacing:-0.275px;font-family:'Liberation Sans',sans-serif;">Last Month</span>
<span id="t14" class="t" style="left:634.20px;top:190.06px;font-size:19.30px;line-height:19.30px;font-weight:400;color:#6b7178;letter-spacing:-0.578px;font-family:'Liberation Sans',sans-serif;">Aggregated by</span>
<span id="t15" class="t" style="left:760.50px;top:190.91px;font-size:18.30px;line-height:18.30px;font-weight:700;color:#6b7178;letter-spacing:-0.771px;font-family:'Liberation Sans',sans-serif;">Day</span>
<span id="t16" class="t" style="left:1034.40px;top:222.97px;font-size:16.10px;line-height:16.10px;font-weight:700;color:#2a3241;letter-spacing:0.719px;font-family:'Liberation Sans',sans-serif;">COMMUNITY</span>
<span id="t17" class="t" style="left:1267.40px;top:222.97px;font-size:16.10px;line-height:16.10px;font-weight:700;color:#2a3241;letter-spacing:0.876px;font-family:'Liberation Sans',sans-serif;">INCOMING</span>
<span id="t18" class="t" style="left:-1463.50px;width:2000px;text-align:right;top:594.81px;font-size:18.30px;line-height:18.30px;font-weight:400;color:#3b4250;letter-spacing:0.000px;font-family:'Liberation Sans',sans-serif;">0</span>
<span id="t19" class="t" style="left:-1463.50px;width:2000px;text-align:right;top:508.81px;font-size:18.30px;line-height:18.30px;font-weight:400;color:#3b4250;letter-spacing:0.000px;font-family:'Liberation Sans',sans-serif;">10</span>
<span id="t20" class="t" style="left:-1463.50px;width:2000px;text-align:right;top:422.81px;font-size:18.30px;line-height:18.30px;font-weight:400;color:#3b4250;letter-spacing:0.000px;font-family:'Liberation Sans',sans-serif;">20</span>
<span id="t21" class="t" style="left:-1463.50px;width:2000px;text-align:right;top:336.81px;font-size:18.30px;line-height:18.30px;font-weight:400;color:#3b4250;letter-spacing:0.000px;font-family:'Liberation Sans',sans-serif;">30</span>
<span id="t22" class="t" style="left:-1463.50px;width:2000px;text-align:right;top:254.61px;font-size:18.30px;line-height:18.30px;font-weight:400;color:#3b4250;letter-spacing:0.000px;font-family:'Liberation Sans',sans-serif;">40</span>
<span id="t23" class="t" style="left:-339.71px;width:2000px;text-align:center;top:630.25px;font-size:18.60px;line-height:18.60px;font-weight:400;color:#3b4250;letter-spacing:-0.480px;font-family:'Liberation Sans',sans-serif;">Feb 04</span>
<span id="t24" class="t" style="left:-230.27px;width:2000px;text-align:center;top:630.25px;font-size:18.60px;line-height:18.60px;font-weight:400;color:#3b4250;letter-spacing:-0.478px;font-family:'Liberation Sans',sans-serif;">Feb 08</span>
<span id="t25" class="t" style="left:-120.83px;width:2000px;text-align:center;top:630.25px;font-size:18.60px;line-height:18.60px;font-weight:400;color:#3b4250;letter-spacing:-0.478px;font-family:'Liberation Sans',sans-serif;">Feb 12</span>
<span id="t26" class="t" style="left:-11.39px;width:2000px;text-align:center;top:630.25px;font-size:18.60px;line-height:18.60px;font-weight:400;color:#3b4250;letter-spacing:-0.478px;font-family:'Liberation Sans',sans-serif;">Feb 16</span>
<span id="t27" class="t" style="left:98.05px;width:2000px;text-align:center;top:630.25px;font-size:18.60px;line-height:18.60px;font-weight:400;color:#3b4250;letter-spacing:-0.478px;font-family:'Liberation Sans',sans-serif;">Feb 20</span>
<span id="t28" class="t" style="left:207.49px;width:2000px;text-align:center;top:630.25px;font-size:18.60px;line-height:18.60px;font-weight:400;color:#3b4250;letter-spacing:-0.478px;font-family:'Liberation Sans',sans-serif;">Feb 24</span>
<span id="t29" class="t" style="left:-647.84px;width:2000px;text-align:right;top:630.25px;font-size:18.60px;line-height:18.60px;font-weight:400;color:#3b4250;letter-spacing:-0.580px;font-family:'Liberation Sans',sans-serif;">Feb 29</span>
<span id="t30" class="t" style="left:0;top:0;width:1000px;text-align:center;font-size:19.20px;line-height:19.20px;color:#1a1a1a;letter-spacing:-0.258px;transform-origin:0 0;transform:translate(442.44px,946.07px) rotate(-90deg);">Content by type</span>
<span id="t31" class="t" style="left:468.00px;top:673.87px;font-size:18.10px;line-height:18.10px;font-weight:400;color:#2a3241;letter-spacing:0.311px;font-family:'Liberation Sans',sans-serif;">Incoming: Direct</span>
<span id="t32" class="t" style="left:468.00px;top:698.67px;font-size:18.10px;line-height:18.10px;font-weight:400;color:#2a3241;letter-spacing:-0.066px;font-family:'Liberation Sans',sans-serif;">Messages</span>
<span id="t33" class="t" style="left:696.80px;top:679.17px;font-size:18.10px;line-height:18.10px;font-weight:400;color:#2a3241;letter-spacing:0.280px;font-family:'Liberation Sans',sans-serif;">Incoming: Comments</span>
<span id="t34" class="t" style="left:925.60px;top:679.17px;font-size:18.10px;line-height:18.10px;font-weight:400;color:#2a3241;letter-spacing:0.241px;font-family:'Liberation Sans',sans-serif;">Incoming: Posts</span>
<span id="t35" class="t" style="left:1154.40px;top:673.87px;font-size:18.10px;line-height:18.10px;font-weight:400;color:#2a3241;letter-spacing:0.170px;font-family:'Liberation Sans',sans-serif;">Outgoing: Direct</span>
<span id="t36" class="t" style="left:1154.40px;top:698.67px;font-size:18.10px;line-height:18.10px;font-weight:400;color:#2a3241;letter-spacing:-0.067px;font-family:'Liberation Sans',sans-serif;">Messages</span>
<span id="t37" class="t" style="left:468.00px;top:738.67px;font-size:18.10px;line-height:18.10px;font-weight:400;color:#2a3241;letter-spacing:0.084px;font-family:'Liberation Sans',sans-serif;">Outgoing: Comments</span>
<span id="t38" class="t" style="left:696.80px;top:738.67px;font-size:18.10px;line-height:18.10px;font-weight:400;color:#2a3241;letter-spacing:0.082px;font-family:'Liberation Sans',sans-serif;">Outgoing: Posts</span>
<span id="t39" class="t" style="left:438.20px;top:796.63px;font-size:22.40px;line-height:22.40px;font-weight:400;color:#636a72;letter-spacing:-0.360px;font-family:'Liberation Sans',sans-serif;">Profiles:</span>
<span id="t40" class="t" style="left:1487.70px;top:154.98px;font-size:27.90px;line-height:27.90px;font-weight:400;color:#2a3241;letter-spacing:-0.240px;font-family:'Liberation Sans',sans-serif;-webkit-text-stroke:0.55px #2a3241;">Content by type</span>
<span id="t41" class="t" style="left:1487.70px;top:187.60px;font-size:22.20px;line-height:22.20px;font-weight:400;color:#2a3241;letter-spacing:-0.275px;font-family:'Liberation Sans',sans-serif;">Last Month</span>
<span id="t42" class="t" style="left:1623.20px;top:190.06px;font-size:19.30px;line-height:19.30px;font-weight:400;color:#6b7178;letter-spacing:-0.578px;font-family:'Liberation Sans',sans-serif;">Aggregated by</span>
<span id="t43" class="t" style="left:1749.50px;top:190.91px;font-size:18.30px;line-height:18.30px;font-weight:700;color:#6b7178;letter-spacing:-0.770px;font-family:'Liberation Sans',sans-serif;">Day</span>
<span id="t44" class="t" style="left:2022.40px;top:222.97px;font-size:16.10px;line-height:16.10px;font-weight:700;color:#2a3241;letter-spacing:0.719px;font-family:'Liberation Sans',sans-serif;">COMMUNITY</span>
<span id="t45" class="t" style="left:2255.40px;top:222.97px;font-size:16.10px;line-height:16.10px;font-weight:700;color:#2a3241;letter-spacing:0.168px;font-family:'Liberation Sans',sans-serif;">OUTGOING</span>
<span id="t46" class="t" style="left:-474.50px;width:2000px;text-align:right;top:594.81px;font-size:18.30px;line-height:18.30px;font-weight:400;color:#3b4250;letter-spacing:0.000px;font-family:'Liberation Sans',sans-serif;">0</span>
<span id="t47" class="t" style="left:-474.50px;width:2000px;text-align:right;top:508.81px;font-size:18.30px;line-height:18.30px;font-weight:400;color:#3b4250;letter-spacing:0.000px;font-family:'Liberation Sans',sans-serif;">35</span>
<span id="t48" class="t" style="left:-474.50px;width:2000px;text-align:right;top:422.81px;font-size:18.30px;line-height:18.30px;font-weight:400;color:#3b4250;letter-spacing:0.000px;font-family:'Liberation Sans',sans-serif;">70</span>
<span id="t49" class="t" style="left:-474.50px;width:2000px;text-align:right;top:336.81px;font-size:18.30px;line-height:18.30px;font-weight:400;color:#3b4250;letter-spacing:0.000px;font-family:'Liberation Sans',sans-serif;">105</span>
<span id="t50" class="t" style="left:-474.50px;width:2000px;text-align:right;top:254.61px;font-size:18.30px;line-height:18.30px;font-weight:400;color:#3b4250;letter-spacing:0.000px;font-family:'Liberation Sans',sans-serif;">140</span>
<span id="t51" class="t" style="left:648.69px;width:2000px;text-align:center;top:630.25px;font-size:18.60px;line-height:18.60px;font-weight:400;color:#3b4250;letter-spacing:-0.480px;font-family:'Liberation Sans',sans-serif;">Feb 04</span>
<span id="t52" class="t" style="left:758.13px;width:2000px;text-align:center;top:630.25px;font-size:18.60px;line-height:18.60px;font-weight:400;color:#3b4250;letter-spacing:-0.480px;font-family:'Liberation Sans',sans-serif;">Feb 08</span>
<span id="t53" class="t" style="left:867.57px;width:2000px;text-align:center;top:630.25px;font-size:18.60px;line-height:18.60px;font-weight:400;color:#3b4250;letter-spacing:-0.480px;font-family:'Liberation Sans',sans-serif;">Feb 12</span>
<span id="t54" class="t" style="left:977.01px;width:2000px;text-align:center;top:630.25px;font-size:18.60px;line-height:18.60px;font-weight:400;color:#3b4250;letter-spacing:-0.478px;font-family:'Liberation Sans',sans-serif;">Feb 16</span>
<span id="t55" class="t" style="left:1086.45px;width:2000px;text-align:center;top:630.25px;font-size:18.60px;line-height:18.60px;font-weight:400;color:#3b4250;letter-spacing:-0.478px;font-family:'Liberation Sans',sans-serif;">Feb 20</span>
<span id="t56" class="t" style="left:1195.89px;width:2000px;text-align:center;top:630.25px;font-size:18.60px;line-height:18.60px;font-weight:400;color:#3b4250;letter-spacing:-0.478px;font-family:'Liberation Sans',sans-serif;">Feb 24</span>
<span id="t57" class="t" style="left:341.16px;width:2000px;text-align:right;top:630.25px;font-size:18.60px;line-height:18.60px;font-weight:400;color:#3b4250;letter-spacing:-0.579px;font-family:'Liberation Sans',sans-serif;">Feb 29</span>
<span id="t58" class="t" style="left:0;top:0;width:1000px;text-align:center;font-size:19.20px;line-height:19.20px;color:#1a1a1a;letter-spacing:-0.257px;transform-origin:0 0;transform:translate(1431.44px,946.07px) rotate(-90deg);">Content by type</span>
<span id="t59" class="t" style="left:1457.00px;top:673.87px;font-size:18.10px;line-height:18.10px;font-weight:400;color:#2a3241;letter-spacing:0.312px;font-family:'Liberation Sans',sans-serif;">Incoming: Direct</span>
<span id="t60" class="t" style="left:1457.00px;top:698.67px;font-size:18.10px;line-height:18.10px;font-weight:400;color:#2a3241;letter-spacing:-0.067px;font-family:'Liberation Sans',sans-serif;">Messages</span>
<span id="t61" class="t" style="left:1685.80px;top:679.17px;font-size:18.10px;line-height:18.10px;font-weight:400;color:#2a3241;letter-spacing:0.279px;font-family:'Liberation Sans',sans-serif;">Incoming: Comments</span>
<span id="t62" class="t" style="left:1914.60px;top:679.17px;font-size:18.10px;line-height:18.10px;font-weight:400;color:#2a3241;letter-spacing:0.241px;font-family:'Liberation Sans',sans-serif;">Incoming: Posts</span>
<span id="t63" class="t" style="left:2143.40px;top:673.87px;font-size:18.10px;line-height:18.10px;font-weight:400;color:#2a3241;letter-spacing:0.170px;font-family:'Liberation Sans',sans-serif;">Outgoing: Direct</span>
<span id="t64" class="t" style="left:2143.40px;top:698.67px;font-size:18.10px;line-height:18.10px;font-weight:400;color:#2a3241;letter-spacing:-0.068px;font-family:'Liberation Sans',sans-serif;">Messages</span>
<span id="t65" class="t" style="left:1457.00px;top:738.67px;font-size:18.10px;line-height:18.10px;font-weight:400;color:#2a3241;letter-spacing:0.084px;font-family:'Liberation Sans',sans-serif;">Outgoing: Comments</span>
<span id="t66" class="t" style="left:1685.80px;top:738.67px;font-size:18.10px;line-height:18.10px;font-weight:400;color:#2a3241;letter-spacing:0.082px;font-family:'Liberation Sans',sans-serif;">Outgoing: Posts</span>
<span id="t67" class="t" style="left:1427.20px;top:796.63px;font-size:22.40px;line-height:22.40px;font-weight:400;color:#636a72;letter-spacing:-0.361px;font-family:'Liberation Sans',sans-serif;">Profiles:</span>
<span id="t68" class="t" style="left:498.70px;top:874.98px;font-size:27.90px;line-height:27.90px;font-weight:400;color:#2a3241;letter-spacing:-0.407px;font-family:'Liberation Sans',sans-serif;-webkit-text-stroke:0.55px #2a3241;">Content by labels</span>
<span id="t69" class="t" style="left:498.70px;top:907.60px;font-size:22.20px;line-height:22.20px;font-weight:400;color:#2a3241;letter-spacing:-0.275px;font-family:'Liberation Sans',sans-serif;">Last Month</span>
<span id="t70" class="t" style="left:634.20px;top:910.06px;font-size:19.30px;line-height:19.30px;font-weight:400;color:#6b7178;letter-spacing:-0.577px;font-family:'Liberation Sans',sans-serif;">Aggregated by</span>
<span id="t71" class="t" style="left:760.50px;top:910.91px;font-size:18.30px;line-height:18.30px;font-weight:700;color:#6b7178;letter-spacing:-0.776px;font-family:'Liberation Sans',sans-serif;">Day</span>
<span id="t72" class="t" style="left:1034.40px;top:942.97px;font-size:16.10px;line-height:16.10px;font-weight:700;color:#2a3241;letter-spacing:0.719px;font-family:'Liberation Sans',sans-serif;">COMMUNITY</span>
<span id="t73" class="t" style="left:1267.40px;top:942.97px;font-size:16.10px;line-height:16.10px;font-weight:700;color:#2a3241;letter-spacing:0.878px;font-family:'Liberation Sans',sans-serif;">INCOMING</span>
<span id="t74" class="t" style="left:-1463.50px;width:2000px;text-align:right;top:1327.51px;font-size:18.30px;line-height:18.30px;font-weight:400;color:#3b4250;letter-spacing:0.000px;font-family:'Liberation Sans',sans-serif;">0</span>
<span id="t75" class="t" style="left:-1463.50px;width:2000px;text-align:right;top:1238.28px;font-size:18.30px;line-height:18.30px;font-weight:400;color:#3b4250;letter-spacing:0.000px;font-family:'Liberation Sans',sans-serif;">8</span>
<span id="t76" class="t" style="left:-1463.50px;width:2000px;text-align:right;top:1149.06px;font-size:18.30px;line-height:18.30px;font-weight:400;color:#3b4250;letter-spacing:0.000px;font-family:'Liberation Sans',sans-serif;">16</span>
<span id="t77" class="t" style="left:-1463.50px;width:2000px;text-align:right;top:1059.83px;font-size:18.30px;line-height:18.30px;font-weight:400;color:#3b4250;letter-spacing:0.000px;font-family:'Liberation Sans',sans-serif;">24</span>
<span id="t78" class="t" style="left:-1463.50px;width:2000px;text-align:right;top:974.41px;font-size:18.30px;line-height:18.30px;font-weight:400;color:#3b4250;letter-spacing:0.000px;font-family:'Liberation Sans',sans-serif;">32</span>
<span id="t79" class="t" style="left:-339.71px;width:2000px;text-align:center;top:1362.25px;font-size:18.60px;line-height:18.60px;font-weight:400;color:#3b4250;letter-spacing:-0.480px;font-family:'Liberation Sans',sans-serif;">Feb 04</span>
<span id="t80" class="t" style="left:-230.27px;width:2000px;text-align:center;top:1362.25px;font-size:18.60px;line-height:18.60px;font-weight:400;color:#3b4250;letter-spacing:-0.480px;font-family:'Liberation Sans',sans-serif;">Feb 08</span>
<span id="t81" class="t" style="left:-120.83px;width:2000px;text-align:center;top:1362.25px;font-size:18.60px;line-height:18.60px;font-weight:400;color:#3b4250;letter-spacing:-0.480px;font-family:'Liberation Sans',sans-serif;">Feb 12</span>
<span id="t82" class="t" style="left:-11.39px;width:2000px;text-align:center;top:1362.25px;font-size:18.60px;line-height:18.60px;font-weight:400;color:#3b4250;letter-spacing:-0.480px;font-family:'Liberation Sans',sans-serif;">Feb 16</span>
<span id="t83" class="t" style="left:98.05px;width:2000px;text-align:center;top:1362.25px;font-size:18.60px;line-height:18.60px;font-weight:400;color:#3b4250;letter-spacing:-0.480px;font-family:'Liberation Sans',sans-serif;">Feb 20</span>
<span id="t84" class="t" style="left:207.49px;width:2000px;text-align:center;top:1362.25px;font-size:18.60px;line-height:18.60px;font-weight:400;color:#3b4250;letter-spacing:-0.478px;font-family:'Liberation Sans',sans-serif;">Feb 24</span>
<span id="t85" class="t" style="left:-647.84px;width:2000px;text-align:right;top:1362.25px;font-size:18.60px;line-height:18.60px;font-weight:400;color:#3b4250;letter-spacing:-0.579px;font-family:'Liberation Sans',sans-serif;">Feb 29</span>
<span id="t86" class="t" style="left:0;top:0;width:1000px;text-align:center;font-size:19.20px;line-height:19.20px;color:#1a1a1a;letter-spacing:-0.367px;transform-origin:0 0;transform:translate(442.44px,1675.72px) rotate(-90deg);">Content by labels</span>
<span id="t87" class="t" style="left:1487.70px;top:874.98px;font-size:27.90px;line-height:27.90px;font-weight:400;color:#2a3241;letter-spacing:-0.407px;font-family:'Liberation Sans',sans-serif;-webkit-text-stroke:0.55px #2a3241;">Content by labels</span>
<span id="t88" class="t" style="left:1487.70px;top:907.60px;font-size:22.20px;line-height:22.20px;font-weight:400;color:#2a3241;letter-spacing:-0.276px;font-family:'Liberation Sans',sans-serif;">Last Month</span>
<span id="t89" class="t" style="left:1623.20px;top:910.06px;font-size:19.30px;line-height:19.30px;font-weight:400;color:#6b7178;letter-spacing:-0.577px;font-family:'Liberation Sans',sans-serif;">Aggregated by</span>
<span id="t90" class="t" style="left:1749.50px;top:910.91px;font-size:18.30px;line-height:18.30px;font-weight:700;color:#6b7178;letter-spacing:-0.776px;font-family:'Liberation Sans',sans-serif;">Day</span>
<span id="t91" class="t" style="left:2022.40px;top:942.97px;font-size:16.10px;line-height:16.10px;font-weight:700;color:#2a3241;letter-spacing:0.720px;font-family:'Liberation Sans',sans-serif;">COMMUNITY</span>
<span id="t92" class="t" style="left:2255.40px;top:942.97px;font-size:16.10px;line-height:16.10px;font-weight:700;color:#2a3241;letter-spacing:0.167px;font-family:'Liberation Sans',sans-serif;">OUTGOING</span>
<span id="t93" class="t" style="left:-474.50px;width:2000px;text-align:right;top:1314.71px;font-size:18.30px;line-height:18.30px;font-weight:400;color:#3b4250;letter-spacing:0.000px;font-family:'Liberation Sans',sans-serif;">0</span>
<span id="t94" class="t" style="left:-474.50px;width:2000px;text-align:right;top:1228.71px;font-size:18.30px;line-height:18.30px;font-weight:400;color:#3b4250;letter-spacing:0.000px;font-family:'Liberation Sans',sans-serif;">5</span>
<span id="t95" class="t" style="left:-474.50px;width:2000px;text-align:right;top:1142.71px;font-size:18.30px;line-height:18.30px;font-weight:400;color:#3b4250;letter-spacing:0.000px;font-family:'Liberation Sans',sans-serif;">10</span>
<span id="t96" class="t" style="left:-474.50px;width:2000px;text-align:right;top:1056.71px;font-size:18.30px;line-height:18.30px;font-weight:400;color:#3b4250;letter-spacing:0.000px;font-family:'Liberation Sans',sans-serif;">15</span>
<span id="t97" class="t" style="left:-474.50px;width:2000px;text-align:right;top:974.51px;font-size:18.30px;line-height:18.30px;font-weight:400;color:#3b4250;letter-spacing:0.000px;font-family:'Liberation Sans',sans-serif;">20</span>
<span id="t98" class="t" style="left:648.69px;width:2000px;text-align:center;top:1349.25px;font-size:18.60px;line-height:18.60px;font-weight:400;color:#3b4250;letter-spacing:-0.480px;font-family:'Liberation Sans',sans-serif;">Feb 04</span>
<span id="t99" class="t" style="left:758.13px;width:2000px;text-align:center;top:1349.25px;font-size:18.60px;line-height:18.60px;font-weight:400;color:#3b4250;letter-spacing:-0.480px;font-family:'Liberation Sans',sans-serif;">Feb 08</span>
<span id="t100" class="t" style="left:867.57px;width:2000px;text-align:center;top:1349.25px;font-size:18.60px;line-height:18.60px;font-weight:400;color:#3b4250;letter-spacing:-0.480px;font-family:'Liberation Sans',sans-serif;">Feb 12</span>
<span id="t101" class="t" style="left:977.01px;width:2000px;text-align:center;top:1349.25px;font-size:18.60px;line-height:18.60px;font-weight:400;color:#3b4250;letter-spacing:-0.480px;font-family:'Liberation Sans',sans-serif;">Feb 16</span>
<span id="t102" class="t" style="left:1086.45px;width:2000px;text-align:center;top:1349.25px;font-size:18.60px;line-height:18.60px;font-weight:400;color:#3b4250;letter-spacing:-0.480px;font-family:'Liberation Sans',sans-serif;">Feb 20</span>
<span id="t103" class="t" style="left:1195.89px;width:2000px;text-align:center;top:1349.25px;font-size:18.60px;line-height:18.60px;font-weight:400;color:#3b4250;letter-spacing:-0.480px;font-family:'Liberation Sans',sans-serif;">Feb 24</span>
<span id="t104" class="t" style="left:341.16px;width:2000px;text-align:right;top:1349.25px;font-size:18.60px;line-height:18.60px;font-weight:400;color:#3b4250;letter-spacing:-0.579px;font-family:'Liberation Sans',sans-serif;">Feb 29</span>
<span id="t105" class="t" style="left:0;top:0;width:1000px;text-align:center;font-size:19.20px;line-height:19.20px;color:#1a1a1a;letter-spacing:-0.367px;transform-origin:0 0;transform:translate(1431.44px,1669.62px) rotate(-90deg);">Content by labels</span>
<div style="position:absolute;left:0;top:0;width:2430px;height:1390px;box-sizing:border-box;border:2px solid #93b0c0;pointer-events:none;z-index:10"></div>
</body></html>
